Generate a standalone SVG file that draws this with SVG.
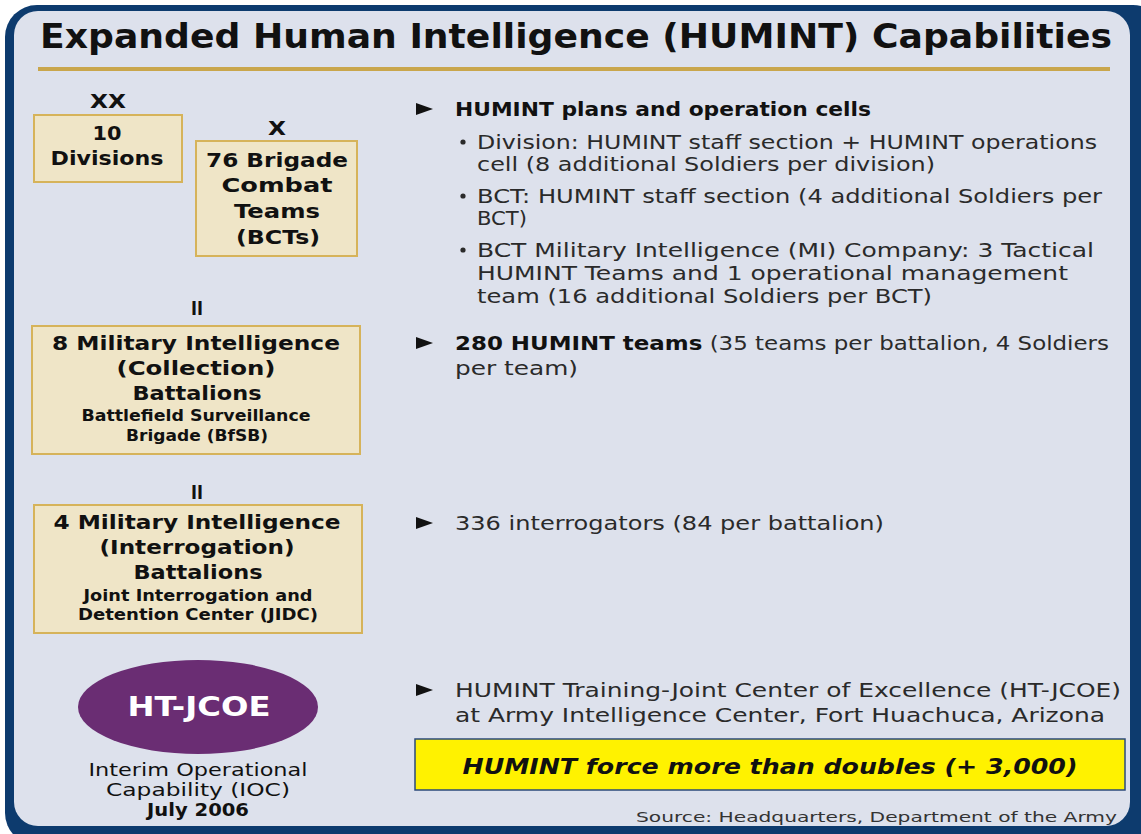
<svg xmlns="http://www.w3.org/2000/svg" width="1141" height="834" viewBox="0 0 1141 834">
<style>
text{font-family:"DejaVu Sans","Liberation Sans",sans-serif}
.t{font-size:33px;font-weight:bold;fill:#111}
.b{font-size:20px;font-weight:bold;fill:#111;text-anchor:middle}
.s{font-size:15px;font-weight:bold;fill:#111;text-anchor:middle}
.r{font-size:19px;fill:#2a2a2a}
.rb{font-weight:bold;fill:#111}
.c{font-size:17px;fill:#111;text-anchor:middle}
.box{fill:#efe5c7;stroke:#d6b35a;stroke-width:2}
.tri{fill:#111}
.dot{fill:#2a2a2a}
</style>
<rect x="0" y="0" width="1141" height="834" fill="#ffffff"/>
<g id="frame">
<rect x="5" y="5" width="1160" height="840" rx="32" fill="#0d3b6e"/>
<rect x="14" y="11" width="1116" height="815" rx="24" fill="#dde1ec"/>
</g>
<g id="title">
<text class="t" x="40" y="48" textLength="1072" lengthAdjust="spacingAndGlyphs">Expanded Human Intelligence (HUMINT) Capabilities</text>
<rect x="38" y="67" width="1072" height="4" fill="#c9a64c"/>
</g>
<g id="divisions">
<text class="b" x="108" y="108" textLength="36" lengthAdjust="spacingAndGlyphs">XX</text>
<rect class="box" x="34" y="115" width="148" height="67"/>
<text class="b" x="107" y="140" textLength="29" lengthAdjust="spacingAndGlyphs">10</text>
<text class="b" x="107" y="165" textLength="113" lengthAdjust="spacingAndGlyphs">Divisions</text>
</g>
<g id="bct">
<text class="b" x="277" y="135" textLength="18" lengthAdjust="spacingAndGlyphs">X</text>
<rect class="box" x="196" y="141" width="161" height="115"/>
<text class="b" x="277" y="167" textLength="142" lengthAdjust="spacingAndGlyphs">76 Brigade</text>
<text class="b" x="277" y="192" textLength="111" lengthAdjust="spacingAndGlyphs">Combat</text>
<text class="b" x="277" y="218" textLength="86" lengthAdjust="spacingAndGlyphs">Teams</text>
<text class="b" x="278" y="244" textLength="84" lengthAdjust="spacingAndGlyphs">(BCTs)</text>
</g>
<g id="mi-collection">
<text class="b" x="197" y="315" textLength="12" lengthAdjust="spacingAndGlyphs">II</text>
<rect class="box" x="32" y="326" width="328" height="128"/>
<text class="b" x="196" y="350" textLength="288" lengthAdjust="spacingAndGlyphs">8 Military Intelligence</text>
<text class="b" x="196" y="375" textLength="159" lengthAdjust="spacingAndGlyphs">(Collection)</text>
<text class="b" x="197" y="400" textLength="129" lengthAdjust="spacingAndGlyphs">Battalions</text>
<text class="s" x="196" y="421" textLength="229" lengthAdjust="spacingAndGlyphs">Battlefield Surveillance</text>
<text class="s" x="197" y="441" textLength="142" lengthAdjust="spacingAndGlyphs">Brigade (BfSB)</text>
</g>
<g id="mi-interrogation">
<text class="b" x="197" y="499" textLength="12" lengthAdjust="spacingAndGlyphs">II</text>
<rect class="box" x="34" y="505" width="328" height="128"/>
<text class="b" x="197" y="529" textLength="287" lengthAdjust="spacingAndGlyphs">4 Military Intelligence</text>
<text class="b" x="197" y="554" textLength="195" lengthAdjust="spacingAndGlyphs">(Interrogation)</text>
<text class="b" x="198" y="579" textLength="129" lengthAdjust="spacingAndGlyphs">Battalions</text>
<text class="s" x="198" y="601" textLength="229" lengthAdjust="spacingAndGlyphs">Joint Interrogation and</text>
<text class="s" x="198" y="620" textLength="240" lengthAdjust="spacingAndGlyphs">Detention Center (JIDC)</text>
</g>
<g id="ht-jcoe">
<ellipse cx="198" cy="707" rx="120" ry="47" fill="#6a2d73"/>
<text x="199" y="716" font-size="26" font-weight="bold" fill="#ffffff" text-anchor="middle" textLength="143" lengthAdjust="spacingAndGlyphs">HT-JCOE</text>
<text class="c" x="198" y="776" textLength="219" lengthAdjust="spacingAndGlyphs">Interim Operational</text>
<text class="c" x="198" y="796" textLength="184" lengthAdjust="spacingAndGlyphs">Capability (IOC)</text>
<text class="c" x="198" y="816" font-weight="bold" textLength="102" lengthAdjust="spacingAndGlyphs">July 2006</text>
</g>
<g id="plans-cells">
<polygon class="tri" points="416,103 433,109 416,115"/>
<text class="r rb" x="455" y="116" textLength="416" lengthAdjust="spacingAndGlyphs">HUMINT plans and operation cells</text>
<circle class="dot" cx="463" cy="142" r="2.6"/>
<text class="r" x="477" y="149" textLength="620" lengthAdjust="spacingAndGlyphs">Division: HUMINT staff section + HUMINT operations</text>
<text class="r" x="477" y="171" textLength="458" lengthAdjust="spacingAndGlyphs">cell (8 additional Soldiers per division)</text>
<circle class="dot" cx="463" cy="196" r="2.6"/>
<text class="r" x="477" y="203" textLength="625" lengthAdjust="spacingAndGlyphs">BCT: HUMINT staff section (4 additional Soldiers per</text>
<text class="r" x="477" y="225" textLength="50" lengthAdjust="spacingAndGlyphs">BCT)</text>
<circle class="dot" cx="463" cy="250" r="2.6"/>
<text class="r" x="477" y="257" textLength="617" lengthAdjust="spacingAndGlyphs">BCT Military Intelligence (MI) Company: 3 Tactical</text>
<text class="r" x="477" y="280" textLength="591" lengthAdjust="spacingAndGlyphs">HUMINT Teams and 1 operational management</text>
<text class="r" x="477" y="303" textLength="455" lengthAdjust="spacingAndGlyphs">team (16 additional Soldiers per BCT)</text>
</g>
<g id="humint-teams">
<polygon class="tri" points="416,337 433,343 416,349"/>
<text class="r" x="455" y="350" textLength="654" lengthAdjust="spacingAndGlyphs"><tspan class="rb">280 HUMINT teams</tspan> (35 teams per battalion, 4 Soldiers</text>
<text class="r" x="455" y="375" textLength="123" lengthAdjust="spacingAndGlyphs">per team)</text>
</g>
<g id="interrogators">
<polygon class="tri" points="416,517 433,523 416,529"/>
<text class="r" x="455" y="530" textLength="429" lengthAdjust="spacingAndGlyphs">336 interrogators (84 per battalion)</text>
</g>
<g id="training">
<polygon class="tri" points="416,684 433,690 416,696"/>
<text class="r" x="455" y="697" fill="#111" textLength="666" lengthAdjust="spacingAndGlyphs">HUMINT Training-Joint Center of Excellence (HT-JCOE)</text>
<text class="r" x="455" y="722" fill="#111" textLength="650" lengthAdjust="spacingAndGlyphs">at Army Intelligence Center, Fort Huachuca, Arizona</text>
</g>
<g id="summary">
<rect x="415" y="739" width="710" height="51" fill="#fff200" stroke="#2b4a7a" stroke-width="1.5"/>
<text x="770" y="774" font-size="21" font-weight="bold" font-style="italic" fill="#111" text-anchor="middle" textLength="615" lengthAdjust="spacingAndGlyphs">HUMINT force more than doubles (+ 3,000)</text>
</g>
<g id="source">
<text x="1117" y="822" font-size="14" fill="#333" text-anchor="end" textLength="481" lengthAdjust="spacingAndGlyphs">Source: Headquarters, Department of the Army</text>
</g>
</svg>
